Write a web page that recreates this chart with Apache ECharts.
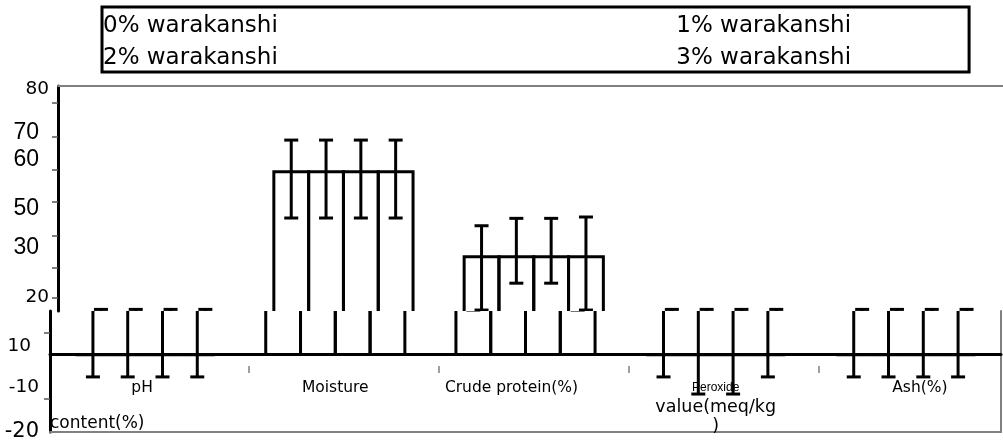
<!DOCTYPE html>
<html>
<head>
<meta charset="utf-8">
<script src="https://cdn.jsdelivr.net/npm/echarts@6/dist/echarts.min.js"></script>
<style>
html,body{margin:0;padding:0;background:#ffffff;}
#c{width:1003px;height:442px;}
</style>
</head>
<body>
<div id="c"></div>
<script>
// ---------------- data ----------------
const categories = ['pH', 'Moisture', 'Crude protein(%)', 'Peroxide value(meq/kg)', 'Ash(%)'];
const categoryLabelLines = [['pH'], ['Moisture'], ['Crude protein(%)'], ['Peroxide', 'value(meq/kg', ')'], ['Ash(%)']];
const seriesNames = ['0% warakanshi', '1% warakanshi', '2% warakanshi', '3% warakanshi'];

const mean0 = [0, 54.5, 29.2, 0, 0];
const mean1 = [0, 54.5, 29.2, 0, 0];
const mean2 = [0, 54.5, 29.2, 0, 0];
const mean3 = [0, 54.5, 29.2, 0, 0];

const errLow0 = [-6.6, 40.7, 13.3, -6.6, -6.6];
const errLow1 = [-6.6, 40.7, 21.3, -11.7, -6.6];
const errLow2 = [-6.6, 40.7, 21.3, -11.7, -6.6];
const errLow3 = [-6.6, 40.7, 13.3, -6.6, -6.6];

const errHigh0 = [13.5, 63.9, 38.4, 13.5, 13.5];
const errHigh1 = [13.5, 63.9, 40.6, 13.5, 13.5];
const errHigh2 = [13.5, 63.9, 40.6, 13.5, 13.5];
const errHigh3 = [13.5, 63.9, 41.0, 13.5, 13.5];

const yAxisMax = 80;
const yAxisSplit = 13.0;
const yAxisMin = -23;
const yTickValuesUpper = [75, 65, 55, 45.5, 35.5, 26, 17];
const yTickValuesLower = [6.5, -13];
const yLabelTextsUpper = ['80', '70', '60', '50', '30', '20'];
const yLabelValuesUpper = [79.1, 66, 58, 43.4, 31.8, 17.2];
const yLabelTextsLower = ['10', '-10', '-20'];
const yLabelValuesLower = [2.6, -9.6, -23];

// ---------------- layout / style ----------------
const means = [mean0, mean1, mean2, mean3];
const lows = [errLow0, errLow1, errLow2, errLow3];
const highs = [errHigh0, errHigh1, errHigh2, errHigh3];

const plotTop = 86, plotBottom = 432;
const pxPerUnit = (plotBottom - plotTop) / (yAxisMax - yAxisMin);
const splitY = plotTop + (yAxisMax - yAxisSplit) * pxPerUnit;
const tickRowY = 366;
const groupRatio = 0.7315;
const capHalf = 7;
const upperLabelStyle = ['s', 'b', 'b', 'b', 'b', 's'];
const lowerLabelStyle = ['p', 's', 'b2'];
const catLabelStyle = ['ph', 'n', 'cp', 'pv', 'ash'];

function nearest(arr, v) {
  let b = 0;
  for (let i = 1; i < arr.length; i++) if (Math.abs(arr[i] - v) < Math.abs(arr[b] - v)) b = i;
  return b;
}

function makeRender(k) {
  return function (params, api) {
    const ci = api.value(0);
    const mean = api.value(1), lo = api.value(2), hi = api.value(3);
    const catW = api.size([1, 0])[0];
    const barW = catW * groupRatio / seriesNames.length;
    const base = api.coord([ci, 0]);
    const cx = base[0] + (k - (seriesNames.length - 1) / 2) * barW;
    const xl = cx - barW / 2, xr = cx + barW / 2;
    const y0 = base[1];
    const yTop = api.coord([ci, mean])[1];
    const yLo = api.coord([ci, lo])[1];
    const yHi = api.coord([ci, hi])[1];
    const st = { stroke: '#000', lineWidth: 3, fill: 'transparent' };
    return {
      type: 'group',
      children: [
        { type: 'polyline', shape: { points: [[xl, y0], [xl, yTop], [xr, yTop], [xr, y0]] }, style: st },
        { type: 'line', shape: { x1: cx, y1: yLo, x2: cx, y2: yHi }, style: st },
        { type: 'line', shape: { x1: cx - capHalf, y1: yHi, x2: cx + capHalf, y2: yHi }, style: st },
        { type: 'line', shape: { x1: cx - capHalf, y1: yLo, x2: cx + capHalf, y2: yLo }, style: st }
      ]
    };
  };
}

const series = [];
[0, 1].forEach(function (g) {
  seriesNames.forEach(function (name, k) {
    series.push({
      type: 'custom',
      name: name,
      xAxisIndex: g === 0 ? 0 : 1,
      yAxisIndex: g === 0 ? 0 : 1,
      clip: true,
      silent: true,
      z: 3,
      encode: { x: 0, y: 1 },
      renderItem: makeRender(k),
      data: categories.map(function (c, i) { return [i, means[k][i], lows[k][i], highs[k][i]]; })
    });
  });
});

const baseText = { fontFamily: 'DejaVu Sans', color: '#000' };
const legendCommon = {
  orient: 'horizontal',
  left: 102,
  itemWidth: 0,
  itemHeight: 23,
  itemGap: 397.5,
  icon: 'rect',
  itemStyle: { color: 'transparent', borderWidth: 0 },
  selectedMode: false,
  textStyle: { fontFamily: 'DejaVu Sans', fontSize: 23, color: '#000', padding: [0, 0, 0, -4] }
};

function catFormatter(v, i) {
  let idx = categories.indexOf(v);
  if (idx < 0) idx = i;
  const lines = categoryLabelLines[idx];
  if (lines.length > 1) {
    return lines.map(function (t, j) { return '{' + (j === 0 ? 'pa' : 'pb') + '|' + t + '}'; }).join('\n');
  }
  return '{' + catLabelStyle[idx] + '|' + lines[0] + '}';
}

const option = {
  animation: false,
  backgroundColor: '#ffffff',
  legend: [
    Object.assign({}, legendCommon, {
      data: [seriesNames[0], seriesNames[1]],
      top: 7,
      padding: [7.5, 118, 34.5, 0],
      borderColor: '#000',
      borderWidth: 3
    }),
    Object.assign({}, legendCommon, {
      data: [seriesNames[2], seriesNames[3]],
      top: 47,
      padding: 0
    })
  ],
  grid: [
    { left: 58, top: plotTop, width: 951.5, height: splitY - plotTop, outerBoundsMode: 'none', containLabel: false },
    { left: 50, top: splitY, width: 951, height: plotBottom - splitY, outerBoundsMode: 'none', containLabel: false }
  ],
  xAxis: [
    {
      gridIndex: 0, type: 'category', data: categories, position: 'top',
      axisLine: { show: true, onZero: false, lineStyle: { color: '#808080', width: 2 } },
      axisTick: { show: false }, axisLabel: { show: false }, splitLine: { show: false }
    },
    {
      gridIndex: 1, type: 'category', data: categories, position: 'bottom',
      axisLine: { show: true, onZero: true, lineStyle: { color: '#000', width: 3 } },
      axisTick: { show: false }, axisLabel: { show: false }, splitLine: { show: false }
    },
    {
      gridIndex: 1, type: 'category', data: categories, position: 'bottom', offset: -(plotBottom - tickRowY),
      axisLine: { show: false, onZero: false },
      axisTick: { show: false },
      splitLine: { show: false },
      axisLabel: {
        show: true, interval: 0, margin: 12.5, color: '#000',
        formatter: catFormatter,
        rich: {
          n: Object.assign({ fontSize: 15.5, lineHeight: 19 }, baseText),
          ph: Object.assign({ fontSize: 15.5, lineHeight: 19, padding: [0, 6, 0, 0] }, baseText),
          cp: Object.assign({ fontSize: 15.5, lineHeight: 19, padding: [0, 28, 0, 0] }, baseText),
          ash: Object.assign({ fontSize: 15.5, lineHeight: 19, padding: [0, 0, 0, 28] }, baseText),
          pa: { fontFamily: 'Liberation Sans', fontSize: 12, lineHeight: 19, color: '#000' },
          pb: Object.assign({ fontSize: 17.5, lineHeight: 19 }, baseText)
        }
      }
    },
    {
      gridIndex: 1, type: 'category', data: categories, position: 'bottom',
      axisLine: { show: true, onZero: false, lineStyle: { color: '#808080', width: 2 } },
      axisTick: { show: false }, axisLabel: { show: false }, splitLine: { show: false }
    },
    {
      gridIndex: 0, type: 'category', data: categories, position: 'bottom', offset: tickRowY - splitY,
      axisLine: { show: false, onZero: false },
      axisTick: { show: true, length: 7, interval: function (i) { return i !== 0; }, lineStyle: { color: '#808080', width: 1.5 } },
      axisLabel: { show: false }, splitLine: { show: false }
    }
  ],
  yAxis: [
    {
      gridIndex: 0, type: 'value', min: yAxisSplit, max: yAxisMax, position: 'left',
      splitLine: { show: false },
      axisLine: { show: true, onZero: false, lineStyle: { color: '#000', width: 3 } },
      axisTick: { show: true, customValues: yTickValuesUpper, length: 6, lineStyle: { color: '#555', width: 1.5 } },
      axisLabel: {
        show: true, margin: 9, color: '#000', customValues: yLabelValuesUpper,
        formatter: function (v) {
          const i = nearest(yLabelValuesUpper, v);
          return '{' + upperLabelStyle[i] + '|' + yLabelTextsUpper[i] + '}';
        },
        rich: {
          s: Object.assign({ fontSize: 18.5 }, baseText),
          b: { fontFamily: 'Liberation Sans', fontSize: 23, color: '#000', padding: [0, 10, 0, 0] }
        }
      }
    },
    {
      gridIndex: 1, type: 'value', min: yAxisMin, max: yAxisSplit, position: 'left',
      splitLine: { show: false },
      axisLine: { show: true, onZero: false, lineStyle: { color: '#000', width: 3 } },
      axisTick: { show: true, customValues: yTickValuesLower, length: 6, lineStyle: { color: '#555', width: 1.5 } },
      name: 'content(%)',
      nameLocation: 'start',
      nameGap: 0,
      nameMoveOverlap: false,
      nameTextStyle: { fontFamily: 'DejaVu Sans', fontSize: 17, color: '#000', align: 'left', verticalAlign: 'bottom' },
      axisLabel: {
        show: true, margin: 11, color: '#000', customValues: yLabelValuesLower,
        showMinLabel: true,
        formatter: function (v) {
          const i = nearest(yLabelValuesLower, v);
          return '{' + lowerLabelStyle[i] + '|' + yLabelTextsLower[i] + '}';
        },
        rich: {
          s: Object.assign({ fontSize: 18.5 }, baseText),
          p: Object.assign({ fontSize: 18.5, padding: [0, 8, 0, 0] }, baseText),
          b2: Object.assign({ fontSize: 21 }, baseText)
        }
      }
    },
    {
      gridIndex: 1, type: 'value', min: yAxisMin, max: yAxisSplit, position: 'right',
      splitLine: { show: false },
      axisLine: { show: true, onZero: false, lineStyle: { color: '#808080', width: 2 } },
      axisTick: { show: false }, axisLabel: { show: false }
    }
  ],
  series: series
};

const chart = echarts.init(document.getElementById('c'), null, { renderer: 'canvas' });
chart.setOption(option);
</script>
</body>
</html>
